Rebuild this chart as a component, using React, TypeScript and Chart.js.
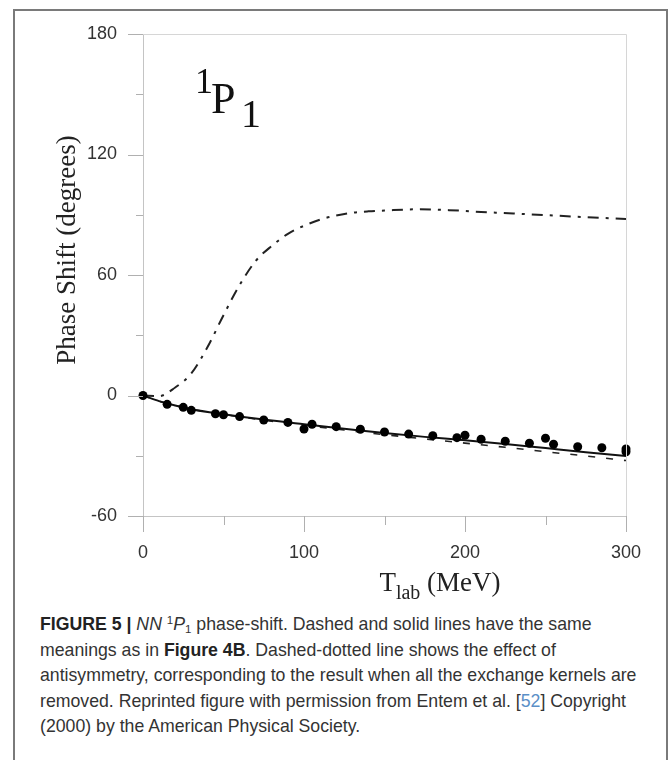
import React, { useEffect, useRef } from "react";
import { Chart, registerables } from "chart.js";

Chart.register(...registerables);

// Experimental phase-shift points (T_lab in MeV, phase shift in degrees)
const expEnergy = [0, 15, 25, 30, 45, 50, 60, 75, 90, 100, 105, 120, 135, 150, 165, 180, 195, 200, 210, 225, 240, 250, 255, 270, 285, 300, 300];
const expPhase = [0, -4.4, -5.9, -7.4, -9.1, -9.6, -10.5, -12.2, -13.4, -16.7, -14.3, -15.5, -16.8, -18.2, -19.2, -20.0, -21.0, -19.8, -21.8, -22.8, -23.8, -21.3, -24.3, -25.5, -26.0, -26.6, -28.0];

// Model curves
const modelEnergy = [0, 10, 20, 30, 50, 75, 100, 125, 150, 175, 200, 225, 250, 275, 300];
const solidPhase = [0, -2.8, -5.0, -6.8, -9.3, -12.0, -14.3, -16.5, -18.7, -20.6, -22.3, -24.2, -26.2, -28.2, -30.1];
const dashedPhase = [0, -2.8, -5.0, -6.8, -9.4, -12.3, -14.8, -17.2, -19.5, -21.6, -23.7, -25.8, -28.0, -30.1, -32.4];

const noExchEnergy = [0, 10, 20, 30, 40, 50, 60, 70, 80, 90, 100, 110, 120, 130, 140, 150, 170, 190, 210, 230, 250, 270, 300];
const noExchPhase = [0, -0.3, 4.0, 11.0, 24.0, 40.0, 55.0, 67.0, 74.5, 80.5, 84.5, 87.6, 89.6, 91.0, 91.7, 92.1, 92.7, 92.3, 91.4, 90.6, 89.8, 89.0, 87.9];

// Axes
const xMin = 0, xMax = 300, xStep = 100;
const yMin = -60, yMax = 180, yStep = 60;
const xMinorTicks = [50, 150, 250];
const yMinorTicks = [-30, 30, 90, 150];

const pts = (xs: number[], ys: number[]) => xs.map((x, i) => ({ x, y: ys[i] }));

const decoPlugin = {
  id: "deco",
  afterDraw(chart: any) {
    const { ctx, chartArea: a, scales } = chart;
    const x = scales.x, y = scales.y;
    ctx.save();
    // light frame (top + right)
    ctx.strokeStyle = "#d6d6d6";
    ctx.lineWidth = 1;
    ctx.beginPath();
    ctx.moveTo(a.left, a.top + 0.5);
    ctx.lineTo(a.right + 0.5, a.top + 0.5);
    ctx.lineTo(a.right + 0.5, a.bottom);
    ctx.stroke();
    // tick marks
    ctx.strokeStyle = "#b0b0b0";
    const hline = (x0: number, x1: number, py: number) => {
      ctx.beginPath();
      ctx.moveTo(x0, py);
      ctx.lineTo(x1, py);
      ctx.stroke();
    };
    const vline = (px: number, y0: number, y1: number) => {
      ctx.beginPath();
      ctx.moveTo(px, y0);
      ctx.lineTo(px, y1);
      ctx.stroke();
    };
    y.ticks.forEach((t: any) => {
      const py = Math.round(y.getPixelForValue(t.value)) + 0.5;
      hline(a.left - 15, a.left, py);
    });
    yMinorTicks.forEach((v) => {
      const py = Math.round(y.getPixelForValue(v)) + 0.5;
      hline(a.left - 7, a.left, py);
    });
    x.ticks.forEach((t: any) => {
      const px = Math.round(x.getPixelForValue(t.value)) + 0.5;
      vline(px, a.bottom, a.bottom + 16);
    });
    xMinorTicks.forEach((v) => {
      const px = Math.round(x.getPixelForValue(v)) + 0.5;
      vline(px, a.bottom, a.bottom + 9);
    });

    // y-axis title
    ctx.fillStyle = "#222";
    ctx.font = '27px "Liberation Serif", "Times New Roman", serif';
    ctx.textAlign = "center";
    ctx.textBaseline = "middle";
    ctx.save();
    ctx.translate(68, 250);
    ctx.rotate(-Math.PI / 2);
    ctx.fillText("Phase Shift (degrees)", 0, 0);
    ctx.restore();

    // x-axis title: T_lab (MeV)
    ctx.textAlign = "left";
    ctx.textBaseline = "alphabetic";
    const big = '27px "Liberation Serif", "Times New Roman", serif';
    const small = '20px "Liberation Serif", "Times New Roman", serif';
    ctx.font = big;
    const wT = ctx.measureText("T").width;
    const wM = ctx.measureText(" (MeV)").width;
    ctx.font = small;
    const wL = ctx.measureText("lab").width;
    const total = wT + wL + wM;
    let cx = 440 - total / 2;
    const base = 591;
    ctx.font = big;
    ctx.fillText("T", cx, base);
    cx += wT;
    ctx.font = small;
    ctx.fillText("lab", cx, base + 8);
    cx += wL;
    ctx.font = big;
    ctx.fillText(" (MeV)", cx, base);

    // state label 1P1
    ctx.fillStyle = "#111";
    ctx.font = '36px "Liberation Serif", "Times New Roman", serif';
    ctx.fillText("1", 195, 93);
    ctx.font = '44px "Liberation Serif", "Times New Roman", serif';
    ctx.fillText("P", 211, 113);
    ctx.font = '40px "Liberation Serif", "Times New Roman", serif';
    ctx.fillText("1", 241, 127);
    ctx.restore();
  },
};

function PhaseChart() {
  const ref = useRef<HTMLCanvasElement | null>(null);
  useEffect(() => {
    if (!ref.current) return;
    const chart = new Chart(ref.current, {
      type: "scatter",
      data: {
        datasets: [
          {
            label: "points",
            data: pts(expEnergy, expPhase),
            showLine: false,
            pointRadius: 4.5,
            pointBackgroundColor: "#000",
            pointBorderColor: "#000",
            pointBorderWidth: 0,
            clip: false,
            order: 0,
          },
          {
            label: "solid",
            data: pts(modelEnergy, solidPhase),
            showLine: true,
            pointRadius: 0,
            borderColor: "#111",
            borderWidth: 2,
            cubicInterpolationMode: "monotone",
            order: 1,
          },
          {
            label: "dashed",
            data: pts(modelEnergy, dashedPhase),
            showLine: true,
            pointRadius: 0,
            borderColor: "#222",
            borderWidth: 1.6,
            borderDash: [7, 11],
            cubicInterpolationMode: "monotone",
            order: 2,
          },
          {
            label: "dashdot",
            data: pts(noExchEnergy, noExchPhase),
            showLine: true,
            pointRadius: 0,
            borderColor: "#222",
            borderWidth: 2,
            borderDash: [11, 7, 3, 7],
            cubicInterpolationMode: "monotone",
            order: 3,
          },
        ],
      },
      options: {
        animation: false,
        responsive: false,
        devicePixelRatio: 1,
        layout: { padding: { left: 0, top: 34, right: 46, bottom: 0 } },
        plugins: { legend: { display: false }, tooltip: { enabled: false } },
        scales: {
          x: {
            type: "linear",
            min: xMin,
            max: xMax,
            grid: { display: false, drawTicks: true, tickLength: 15 },
            border: { display: true, color: "#c4c4c4", width: 1 },
            ticks: {
              stepSize: xStep,
              padding: 11,
              color: "#333",
              font: { family: '"Liberation Sans", Arial, sans-serif', size: 18 },
              maxRotation: 0,
            },
            afterFit: (s: any) => {
              s.height = 84;
            },
          },
          y: {
            type: "linear",
            min: yMin,
            max: yMax,
            grid: { display: false, drawTicks: true, tickLength: 15 },
            border: { display: true, color: "#c4c4c4", width: 1 },
            ticks: {
              stepSize: yStep,
              padding: 11,
              color: "#333",
              font: { family: '"Liberation Sans", Arial, sans-serif', size: 18 },
            },
            afterFit: (s: any) => {
              s.width = 143;
            },
          },
        },
      },
      plugins: [decoPlugin],
    });
    return () => chart.destroy();
  }, []);
  return <canvas ref={ref} width={672} height={600} style={{ position: "absolute", left: 0, top: 0 }} />;
}

export default function App() {
  const supStyle: React.CSSProperties = { fontSize: 11.5, lineHeight: 0, verticalAlign: "6px" };
  const subStyle: React.CSSProperties = { fontSize: 11.5, lineHeight: 0, verticalAlign: "-3px" };
  return (
    <div style={{ position: "absolute", left: 0, top: 0, width: 672, height: 760, overflow: "hidden", background: "#fff" }}>
      <div
        style={{
          position: "absolute",
          left: 13,
          top: 9,
          width: 651,
          height: 800,
          border: "2px solid #7a7a7a",
        }}
      />
      <PhaseChart />
      <div
        style={{
          position: "absolute",
          left: 40,
          top: 612,
          width: 625,
          whiteSpace: "nowrap",
          font: '17.7px "Liberation Sans", Arial, Helvetica, sans-serif',
          lineHeight: "25.6px",
          color: "#333",
        }}
      >
        <b style={{ color: "#222" }}>FIGURE 5 |</b> <i>NN</i> <span style={supStyle}>1</span>
        <i>P</i>
        <span style={subStyle}>1</span> phase-shift. Dashed and solid lines have the same
        <br />
        meanings as in <b style={{ color: "#222" }}>Figure 4B</b>. Dashed-dotted line shows the effect of
        <br />
        antisymmetry, corresponding to the result when all the exchange kernels are
        <br />
        removed. Reprinted figure with permission from Entem et al. [<span style={{ color: "#5b8fc7" }}>52</span>] Copyright
        <br />
        (2000) by the American Physical Society.
      </div>
    </div>
  );
}
